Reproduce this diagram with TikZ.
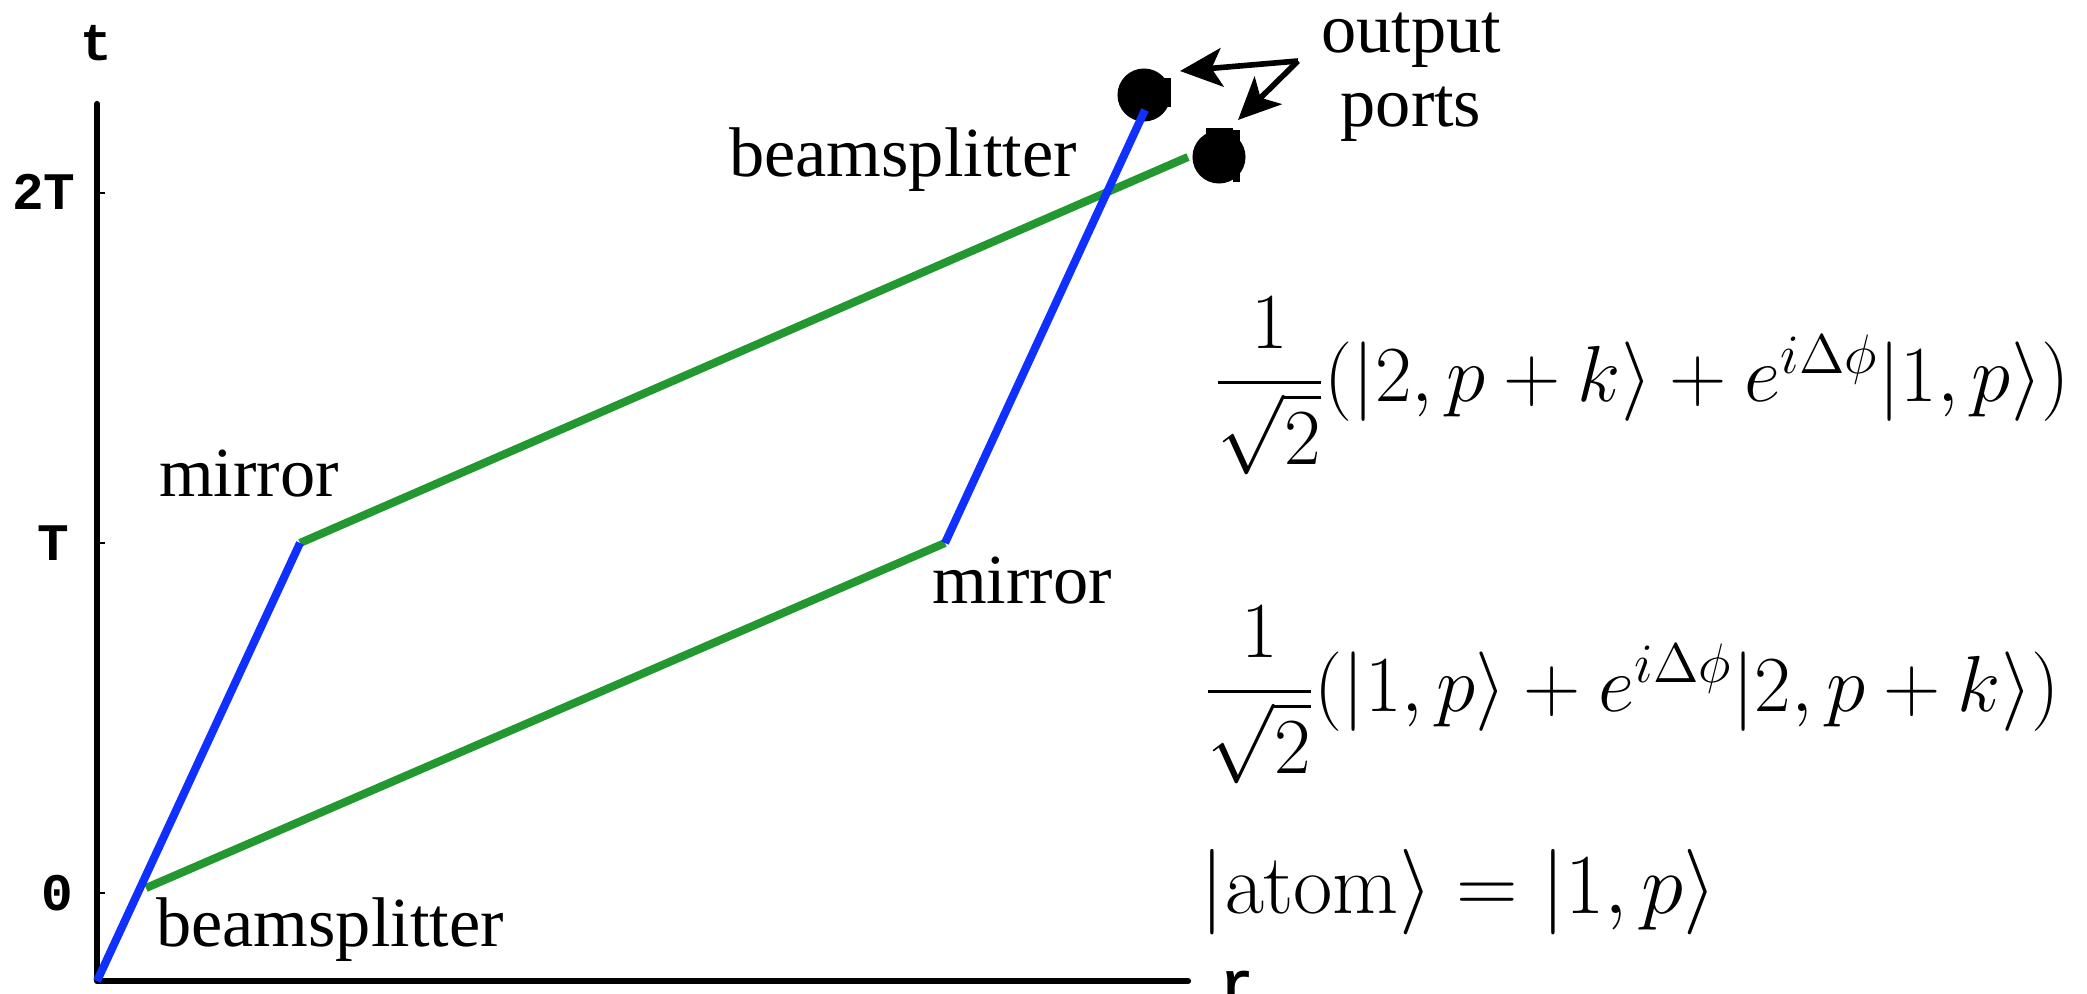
\RequirePackage{fix-cm}
\documentclass[tikz,border=0pt]{standalone}
\usepackage{amsmath}
\usepackage[no-math]{fontspec}
\setmainfont{Liberation Serif}
\newfontfamily\axisfont{Liberation Mono}
\usepackage{xcolor}
\usetikzlibrary{arrows.meta}

\definecolor{beamblue}{RGB}{16,48,255}
\definecolor{beamgreen}{RGB}{36,152,48}

\begin{document}
\begin{tikzpicture}[x=0.01cm, y=-0.01cm,
  lbl/.style={font=\fontsize{20}{24}\selectfont, inner sep=0pt, anchor=base},
  axlbl/.style={font=\axisfont\bfseries\fontsize{15}{18}\selectfont, inner sep=0pt},
  eq/.style={font=\fontsize{22.6}{27}\selectfont, inner sep=0pt, anchor=base west},
  axis/.style={line width=1.8pt, line cap=round, line join=round},
  armb/.style={line width=2.3pt, draw=beamblue},
  armg/.style={line width=2.3pt, draw=beamgreen},
  port/.style={circle, fill=black, minimum size=0.53cm, inner sep=0pt},
  ptr/.style={-{Stealth[length=12pt, width=11pt, inset=3pt]}, line width=1.6pt}
]
  \useasboundingbox (0,0) rectangle (2087,994);
  % axes
  \coordinate (orig) at (97,981);
  \coordinate (ttop) at (97,104);
  \coordinate (rend) at (1188,981);
  \draw[axis] (ttop) -- (orig) -- (rend);
  \node[axlbl] (tlbl) at (96,43) {t};
  \node[axlbl] (rlbl) at (1237,985) {r};
  \node[axlbl] (t2) at (44,192) {2T};
  \node[axlbl] (t1) at (53,543) {T};
  \node[axlbl] (t0) at (57,893) {0};
  \draw[line width=0.4pt] (97,193) -- ++(8,0);
  \draw[line width=0.4pt] (97,543) -- ++(8,0);
  \draw[line width=0.4pt] (97,893) -- ++(8,0);
  % interferometer arms
  \coordinate (bs1) at (146,888);
  \coordinate (mir1) at (300,543);
  \coordinate (mir2) at (945,543);
  \node[port] (out1) at (1144,95) {};
  \node[port] (out2) at (1219,157) {};
  \fill (1150,78) rectangle (1171,107);
  \fill (1206,128) rectangle (1233,135);
  \fill (1233,130) rectangle (1240,182);
  \coordinate (top1) at (1145,110);
  \coordinate (top2) at (1188,157);
  \draw[armg] (bs1) -- (mir2);
  \draw[armg] (mir1) -- (top2);
  \draw[armb] (orig) -- (mir1);
  \draw[armb] (mir2) -- (top1);
  % labels
  \node[lbl] (bsl) at (330,946) {beamsplitter};
  \node[lbl] (bsu) at (903,177) {beamsplitter};
  \node[lbl] (mil) at (249,496) {mirror};
  \node[lbl] (mir) at (1022,603) {mirror};
  \node[lbl] (outa) at (1411,53) {output};
  \node[lbl] (outb) at (1411,127) {ports};
  \coordinate (apex) at (1298,61);
  \coordinate (tip1) at (1180,71);
  \coordinate (tip2) at (1238,120);
  \draw[ptr] (apex) -- (tip1);
  \draw[ptr] (apex) -- (tip2);
  % states
  \node[eq] (s2) at (1213,402) {$\dfrac{1}{\sqrt{2}}(|2,p+k\rangle+e^{i\Delta\phi}|1,p\rangle)$};
  \node[eq] (s1) at (1203,711) {$\dfrac{1}{\sqrt{2}}(|1,p\rangle+e^{i\Delta\phi}|2,p+k\rangle)$};
  \node[eq, font=\fontsize{24.3}{28}\selectfont] (s0) at (1200,913) {$|\mathrm{atom}\rangle=|1,p\rangle$};
\end{tikzpicture}
\end{document}
